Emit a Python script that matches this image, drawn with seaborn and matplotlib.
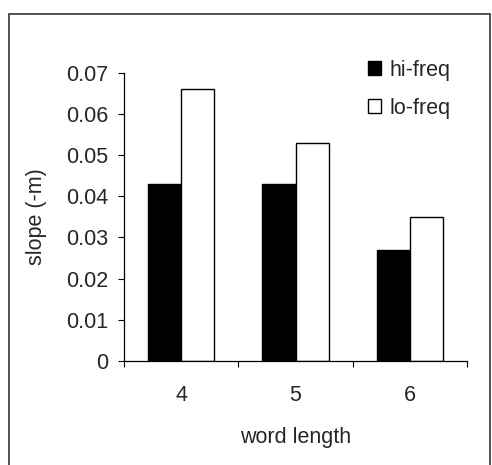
import pandas as pd
import matplotlib.pyplot as plt
import seaborn as sns
from matplotlib.patches import Rectangle

# values
word_length = ["4", "5", "6"]
hi_freq = [0.043, 0.043, 0.027]
lo_freq = [0.066, 0.053, 0.035]
series = ["hi-freq", "lo-freq"]
y_ticks = [0, 0.01, 0.02, 0.03, 0.04, 0.05, 0.06, 0.07]
y_tick_labels = ["0", "0.01", "0.02", "0.03", "0.04", "0.05", "0.06", "0.07"]

df = pd.DataFrame({
    "word length": word_length * 2,
    "slope": hi_freq + lo_freq,
    "freq": [series[0]] * 3 + [series[1]] * 3,
})

sns.set_style("white")
plt.rcParams["font.family"] = ["Liberation Sans", "DejaVu Sans"]
fs = 15.5

fig = plt.figure(figsize=(4.92, 4.65), dpi=100)
ax = fig.add_axes([124 / 492, 1 - 361 / 465, (467 - 124) / 492, (361 - 72.7) / 465])

sns.barplot(data=df, x="word length", y="slope", hue="freq", order=word_length,
            hue_order=series, palette={"hi-freq": "black", "lo-freq": "white"},
            edgecolor="black", linewidth=1.0, width=0.58, ax=ax, legend=True)

ax.set_xlim(-0.5, 2.5)
ax.set_ylim(0, 0.07)
ax.set_yticks(y_ticks)
ax.set_yticklabels(y_tick_labels, fontsize=fs)

# excel style: tick marks on category boundaries, labels in the middle
ax.set_xticks([-0.5, 0.5, 1.5, 2.5])
ax.set_xticklabels([])
ax.set_xticks([0, 1, 2], minor=True)
ax.set_xticklabels(word_length, minor=True, fontsize=fs)
ax.tick_params(axis="x", which="major", direction="out", length=4.5, width=0.8, color="black", bottom=True)
ax.tick_params(axis="x", which="minor", length=0, pad=17.5)
ax.tick_params(axis="y", direction="out", length=4.5, width=0.8, color="black", left=True, pad=7)

for s in ["top", "right"]:
    ax.spines[s].set_visible(False)
for s in ["left", "bottom"]:
    ax.spines[s].set_color("black")
    ax.spines[s].set_linewidth(0.9)

ax.set_xlabel("word length", fontsize=fs, labelpad=15)
ax.set_ylabel("slope (-m)", fontsize=fs, labelpad=13.5)

leg = ax.legend(loc="upper left", bbox_to_anchor=(357 / 492, 1 - 49 / 465),
                bbox_transform=fig.transFigure, frameon=False, fontsize=fs,
                handlelength=0.62, handleheight=0.62, handletextpad=0.4,
                labelspacing=0.78, borderpad=0)

# outer frame of the chart
fig.add_artist(Rectangle((9 / 492, -0.05), (490 - 9) / 492, 1.05 - 14 / 465,
                         transform=fig.transFigure, fill=False,
                         edgecolor="#333333", linewidth=1.2))

fig.savefig("out.png", dpi=100)
